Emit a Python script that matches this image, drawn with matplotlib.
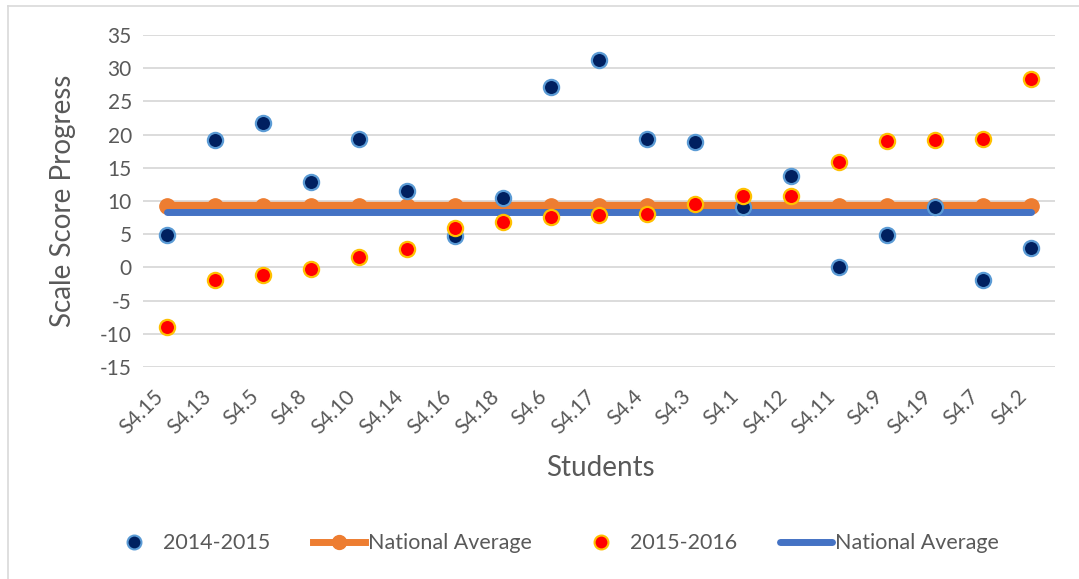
import matplotlib
matplotlib.use('Agg')
import matplotlib.pyplot as plt
from matplotlib.lines import Line2D

plt.rcParams['font.family'] = ['Lato', 'DejaVu Sans']

# Data
students = ['S4.15', 'S4.13', 'S4.5', 'S4.8', 'S4.10', 'S4.14', 'S4.16', 'S4.18',
            'S4.6', 'S4.17', 'S4.4', 'S4.3', 'S4.1', 'S4.12', 'S4.11', 'S4.9',
            'S4.19', 'S4.7', 'S4.2']
y2014 = [4.9, 19.2, 21.7, 12.8, 19.3, 11.5, 4.7, 10.4, 27.2, 31.3,
         19.3, 18.9, 9.1, 13.8, 0.1, 4.9, 9.1, -1.9, 2.9]
y2015 = [-8.9, -1.9, -1.2, -0.3, 1.5, 2.8, 6.0, 6.9, 7.6, 7.9,
         8.0, 9.6, 10.8, 10.8, 15.8, 19.0, 19.2, 19.3, 28.3]
nat_avg_1 = [9.2] * len(students)
nat_avg_2 = [8.3] * len(students)
yticks = list(range(-15, 40, 5))

grey = '#595959'

fig = plt.figure(figsize=(10.79, 5.79), dpi=100)
ax = fig.add_axes([0.1325, 0.3661, 0.8453, 0.5735])

x = list(range(len(students)))

ax.plot(x, nat_avg_1, '-o', color='#ED7D31', lw=6, ms=11, zorder=2,
        solid_capstyle='round')
ax.plot(x, nat_avg_2, '-', color='#4472C4', lw=5, zorder=3,
        solid_capstyle='round')
ax.scatter(x, y2014, s=120, color='#002060', edgecolors='#5B9BD5',
           linewidths=1.6, zorder=4)
ax.scatter(x, y2015, s=120, color='#FF0000', edgecolors='#FFC000',
           linewidths=1.6, zorder=5)

ax.set_xlim(-0.5, len(students) - 0.5)
ax.set_ylim(-15, 35)
ax.set_yticks(yticks)
ax.set_yticklabels([str(v) for v in yticks])
ax.set_xticks(x)
ax.set_xticklabels(students, rotation=45, ha='right', va='top')
ax.tick_params(axis='x', length=0, pad=14, labelsize=15, labelcolor=grey)
ax.tick_params(axis='y', length=0, pad=8, labelsize=15, labelcolor=grey)
ax.yaxis.grid(True, color='#D9D9D9', lw=1.3)
ax.set_axisbelow(True)
for s in ax.spines.values():
    s.set_visible(False)

fig.text(0.058, 0.654, 'Scale Score Progress', rotation=90, ha='center',
         va='center', fontsize=20, color=grey)
fig.text(0.556, 0.192, 'Students', ha='center', va='center', fontsize=20,
         color=grey)

handles = [
    Line2D([], [], ls='none', marker='o', ms=10, mfc='#002060', mec='#5B9BD5', mew=1.5),
    Line2D([], [], color='#ED7D31', lw=5, marker='o', ms=10),
    Line2D([], [], ls='none', marker='o', ms=10, mfc='#FF0000', mec='#FFC000', mew=1.5),
    Line2D([], [], color='#4472C4', lw=5, solid_capstyle='round'),
]
labels = ['2014-2015', 'National Average', '2015-2016', 'National Average']
fig.legend(handles, labels, loc='center', bbox_to_anchor=(0.513, 0.062), ncol=4,
           frameon=False, fontsize=15.5, handlelength=2.4, handletextpad=0.15,
           columnspacing=2.0, labelcolor=grey)

# chart border (left and top edges visible)
fig.add_artist(Line2D([8 / 1079, 8 / 1079], [0, 1 - 6 / 579], color='#D9D9D9', lw=1.2))
fig.add_artist(Line2D([8 / 1079, 1], [1 - 6 / 579, 1 - 6 / 579], color='#D9D9D9', lw=1.2))

fig.savefig('out.png', dpi=100, facecolor='white')
